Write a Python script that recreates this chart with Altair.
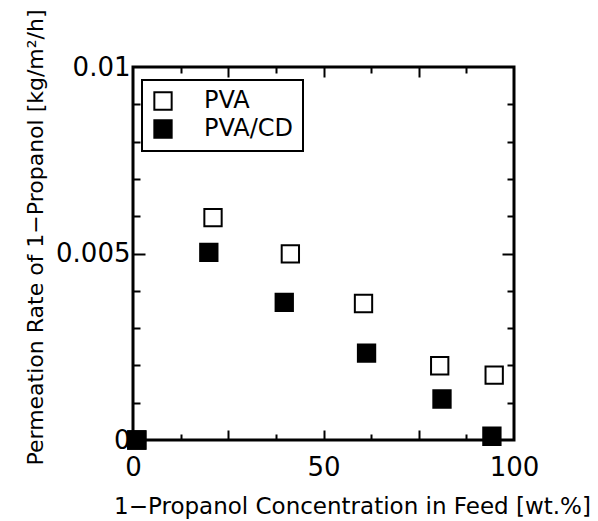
import altair as alt
import pandas as pd

series_names = ["PVA", "PVA/CD"]
conc_pva = [1, 21, 41.3, 60.5, 80.5, 94.8]
rate_pva = [0.0, 0.00596, 0.00499, 0.00366, 0.00199, 0.00174]
conc_cd = [1, 19.9, 39.7, 61.3, 81.1, 94.2]
rate_cd = [0.0, 0.00503, 0.00369, 0.00233, 0.0011, 0.0001]

x_label_values = [0, 50, 100]
x_major_ticks = [25, 50, 75]
x_minor_ticks = [12.5, 37.5, 62.5, 87.5]
y_label_values = [0, 0.005, 0.01]
y_major_ticks = [0.005]
y_minor_ticks = [0.001, 0.002, 0.003, 0.004, 0.006, 0.007, 0.008, 0.009]

rows = []
for c, r in zip(conc_pva, rate_pva):
    rows.append({"conc": c, "rate": r, "series": series_names[0]})
for c, r in zip(conc_cd, rate_cd):
    rows.append({"conc": c, "rate": r, "series": series_names[1]})
df = pd.DataFrame(rows)

W, H = 381, 373
FONT = "DejaVu Sans"

xscale = alt.Scale(domain=[0, 100], nice=False, zero=False)
yscale = alt.Scale(domain=[0, 0.01], nice=False, zero=False)


def tick_axis(values, orient, offset, size):
    return alt.Axis(values=values, orient=orient, offset=offset, tickSize=size,
                    tickWidth=2, tickColor="black", labels=False, domain=False,
                    grid=False, title=None)


main = alt.Chart(df).mark_point(filled=True, shape="square", size=300,
                                stroke="black", strokeWidth=2, opacity=1).encode(
    x=alt.X("conc:Q", scale=xscale, axis=alt.Axis(
        values=x_label_values, format="d", ticks=False, domain=False, grid=False,
        labelFont=FONT, labelFontSize=26, labelColor="black", labelPadding=14,
        labelFlush=False, labelOverlap=False,
        title="1\u2212Propanol Concentration in Feed [wt.%]",
        titleFont=FONT, titleFontSize=23, titleFontWeight="normal", titleColor="black",
        titleX=219, titleY=73, titleAlign="center", titleBaseline="alphabetic")),
    y=alt.Y("rate:Q", scale=yscale, axis=alt.Axis(
        values=y_label_values, format="~g", ticks=False, domain=False, grid=False,
        labelFont=FONT, labelFontSize=26, labelColor="black", labelPadding=3,
        labelFlush=False, labelOverlap=False,
        title="Permeation Rate of 1\u2212Propanol [kg/m\u00b2/h]",
        titleFont=FONT, titleFontSize=22, titleFontWeight="normal", titleColor="black",
        titleAngle=270, titleX=-91, titleY=170, titleAlign="center",
        titleBaseline="alphabetic")),
    fill=alt.Fill("series:N", scale=alt.Scale(domain=series_names, range=["white", "black"]),
                  legend=alt.Legend(title=None, orient="none", legendX=9, legendY=13,
                                    symbolType="square", symbolSize=300,
                                    symbolStrokeColor="black", symbolStrokeWidth=2,
                                    labelFont=FONT, labelFontSize=24, labelColor="black",
                                    labelOffset=29, rowPadding=2, padding=9,
                                    strokeColor="black")),
)


def ghost(xax, yax):
    return alt.Chart(df).mark_point(opacity=0).encode(
        x=alt.X("conc:Q", scale=xscale, axis=xax),
        y=alt.Y("rate:Q", scale=yscale, axis=yax),
    )


l2 = ghost(tick_axis(x_major_ticks, "top", -H, 10), tick_axis(y_major_ticks, "right", -W, 12))
l3 = ghost(tick_axis(x_minor_ticks, "top", -H, 6), tick_axis(y_minor_ticks, "right", -W, 7))
l4 = ghost(tick_axis(x_major_ticks, "bottom", -H, 10), tick_axis(y_major_ticks, "left", -W, 12))
l5 = ghost(tick_axis(x_minor_ticks, "bottom", -H, 6), tick_axis(y_minor_ticks, "left", -W, 7))

chart = alt.layer(l2, l3, l4, l5, main).resolve_axis(
    x="independent", y="independent"
).properties(
    width=W, height=H,
    autosize=alt.AutoSizeParams(type="none"),
    padding={"left": 125, "top": 59, "right": 76, "bottom": 95},
).configure_view(
    stroke="black", strokeWidth=3
).configure_legend(
    strokeWidth=2
)

chart.save("out.html", embed_options={"renderer": "svg", "actions": False})
